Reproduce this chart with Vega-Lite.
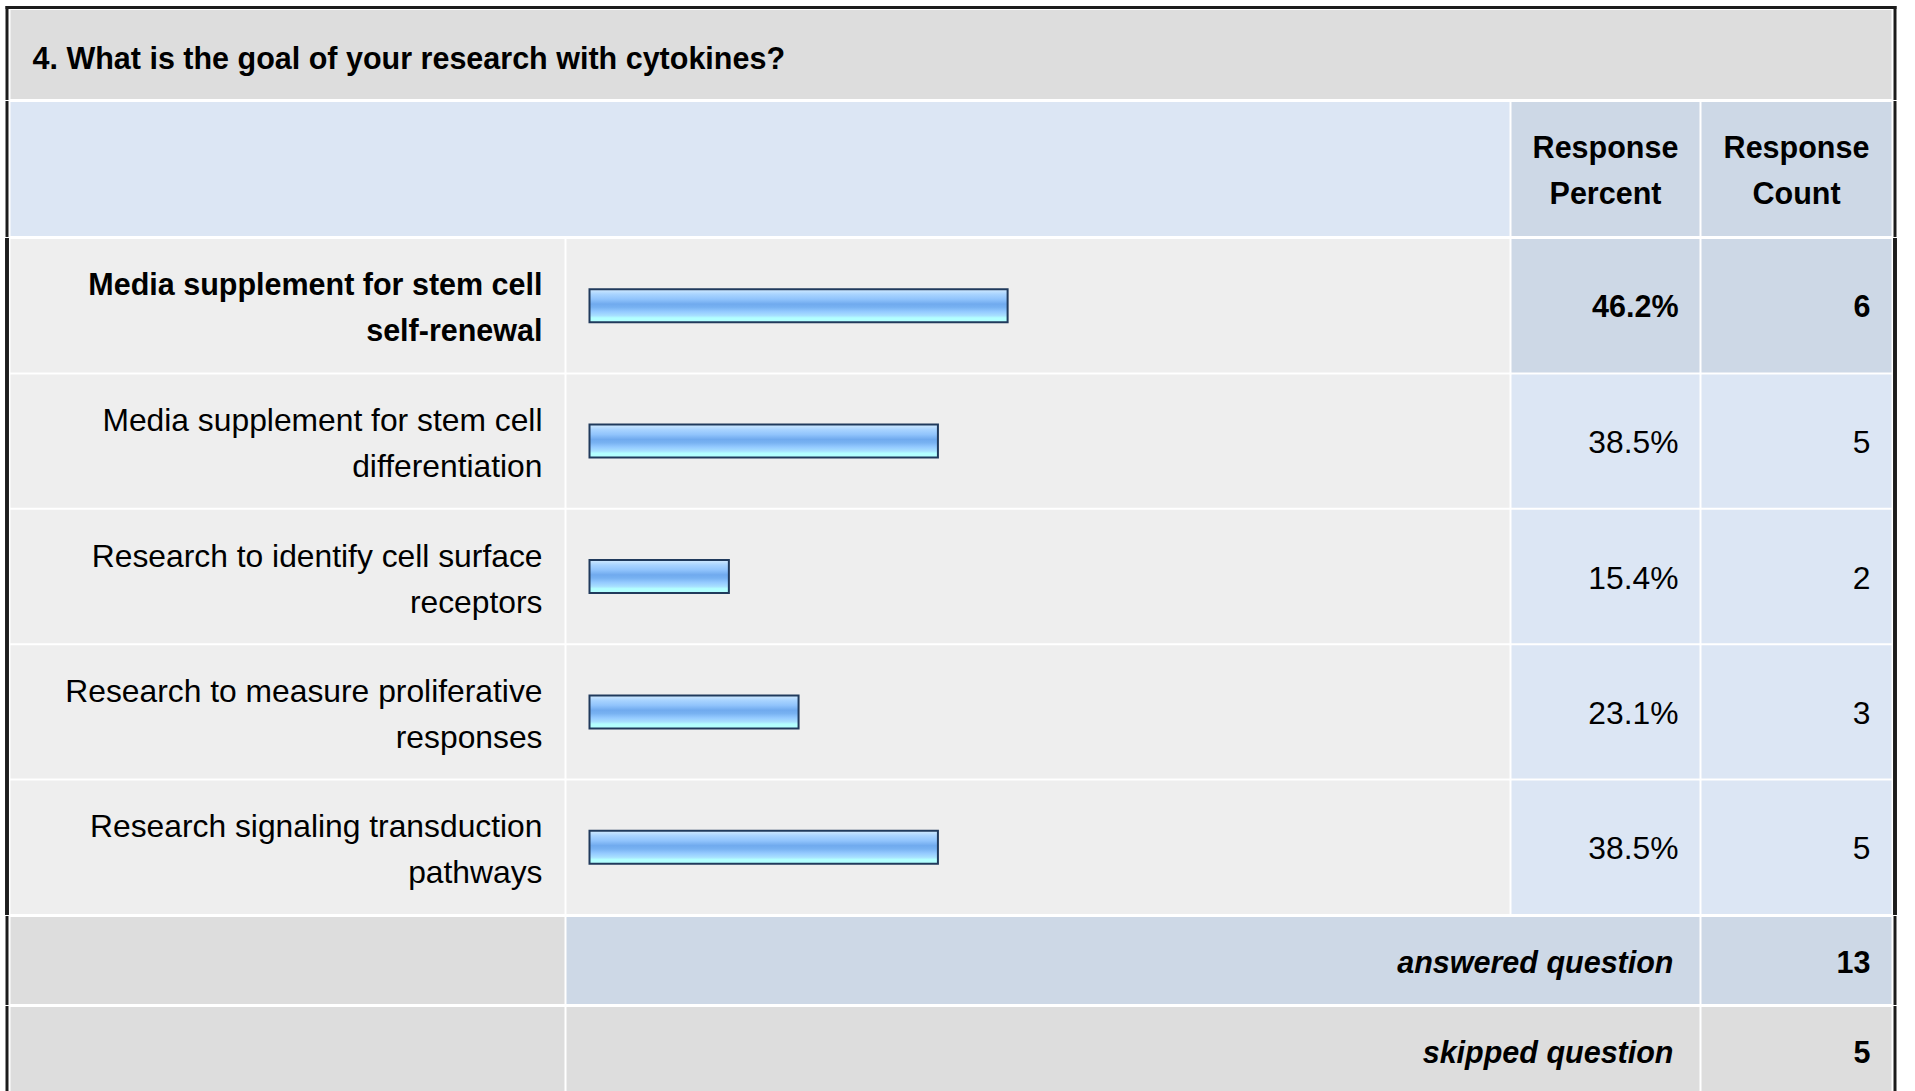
{
  "$schema": "https://vega.github.io/schema/vega-lite/v6.json",
  "padding": {"left": 4.5, "top": 4, "right": 14, "bottom": 0},
  "background": "white",
  "config": {
    "view": {"stroke": null},
    "text": {"font": "Liberation Sans", "fontSize": 31.8, "color": "#000000"}
  },
  "datasets": {
    "question": [{"title": "4. What is the goal of your research with cytokines?"}],
    "headings": [{"heading": "Response Percent"}, {"heading": "Response Count"}],
    "answers": [
      {"answer": "Media supplement for stem cell\nself-renewal", "percent": 0.462, "count": 6},
      {"answer": "Media supplement for stem cell\ndifferentiation", "percent": 0.385, "count": 5},
      {"answer": "Research to identify cell surface\nreceptors", "percent": 0.154, "count": 2},
      {"answer": "Research to measure proliferative\nresponses", "percent": 0.231, "count": 3},
      {"answer": "Research signaling transduction\npathways", "percent": 0.385, "count": 5}
    ],
    "summary": [
      {"label": "answered question", "count": 13},
      {"label": "skipped question", "count": 5}
    ]
  },
  "spacing": -6,
  "bounds": "full",
  "vconcat": [
    {
      "width": 1881,
      "height": 89,
      "view": {"fill": "#dddddd"},
      "data": {"name": "question"},
      "layer": [
        {
          "mark": {"type": "text", "align": "left", "baseline": "middle", "fontWeight": "bold", "fontSize": 30.5, "dx": 22, "dy": 5},
          "encoding": {"x": {"value": 0}, "text": {"field": "title"}}
        },
        {
          "mark": {"type": "rule", "color": "#1c1c1c", "strokeWidth": 3, "xOffset": -3.5, "yOffset": -4, "y2Offset": 1},
          "encoding": {"x": {"value": 0}, "y": {"value": 0}, "y2": {"value": "height"}}
        },
        {
          "mark": {"type": "rule", "color": "#1c1c1c", "strokeWidth": 3, "xOffset": 3.5, "yOffset": -4, "y2Offset": 1},
          "encoding": {"x": {"value": "width"}, "y": {"value": 0}, "y2": {"value": "height"}}
        },
        {
          "mark": {"type": "rule", "color": "#1c1c1c", "strokeWidth": 3, "strokeCap": "square", "yOffset": -2.5, "xOffset": -3.5, "x2Offset": 3.5},
          "encoding": {"y": {"value": 0}, "x": {"value": 0}, "x2": {"value": "width"}}
        }
      ]
    },
    {
      "spacing": 2,
      "bounds": "flush",
      "hconcat": [
        {
          "width": 1499,
          "height": 134,
          "view": {"fill": "#dce6f4"},
          "data": {"values": [{}]},
          "mark": {"type": "rule", "color": "#1c1c1c", "strokeWidth": 3, "xOffset": -3.5, "yOffset": -1, "y2Offset": 1},
          "encoding": {"x": {"value": 0}, "y": {"value": 0}, "y2": {"value": "height"}}
        },
        {
          "width": 188,
          "height": 134,
          "view": {"fill": "#cdd8e6"},
          "data": {"name": "headings"},
          "transform": [{"filter": "datum.heading == 'Response Percent'"}],
          "mark": {"type": "text", "align": "center", "baseline": "middle", "fontWeight": "bold", "fontSize": 30.5, "lineBreak": " ", "lineHeight": 46, "dy": -20},
          "encoding": {"text": {"field": "heading"}}
        },
        {
          "width": 190,
          "height": 134,
          "view": {"fill": "#cdd8e6"},
          "data": {"name": "headings"},
          "transform": [{"filter": "datum.heading == 'Response Count'"}],
          "layer": [
            {
              "mark": {"type": "text", "align": "center", "baseline": "middle", "fontWeight": "bold", "fontSize": 30.5, "lineBreak": " ", "lineHeight": 46, "dy": -20},
              "encoding": {"text": {"field": "heading"}}
            },
            {
              "mark": {"type": "rule", "color": "#1c1c1c", "strokeWidth": 3, "xOffset": 3.5, "yOffset": -1, "y2Offset": 1},
              "encoding": {"x": {"value": "width"}, "y": {"value": 0}, "y2": {"value": "height"}}
            }
          ]
        }
      ]
    },
    {
      "spacing": 2,
      "bounds": "flush",
      "hconcat": [
        {
          "width": 554,
          "height": 675,
          "data": {"name": "answers"},
          "transform": [{"joinaggregate": [{"op": "max", "field": "percent", "as": "maxp"}]}],
          "layer": [
            {
              "mark": {"type": "rect", "color": "#eeeeee"},
              "encoding": {
                "y": {"field": "answer", "type": "nominal", "sort": null, "axis": null, "scale": {"paddingInner": 0.0147, "paddingOuter": 0}},
                "x": {"value": 0},
                "x2": {"value": "width"}
              }
            },
            {
              "mark": {"type": "text", "align": "right", "baseline": "middle", "lineBreak": "\n", "lineHeight": 46, "dx": -22, "dy": -20},
              "encoding": {
                "y": {"field": "answer", "type": "nominal", "sort": null, "axis": null},
                "x": {"value": "width"},
                "text": {"condition": {"test": "datum.percent != datum.maxp", "field": "answer"}, "value": ""}
              }
            },
            {
              "mark": {"type": "text", "align": "right", "baseline": "middle", "fontWeight": "bold", "fontSize": 30.5, "lineBreak": "\n", "lineHeight": 46, "dx": -22, "dy": -20},
              "encoding": {
                "y": {"field": "answer", "type": "nominal", "sort": null, "axis": null},
                "x": {"value": "width"},
                "text": {"condition": {"test": "datum.percent == datum.maxp", "field": "answer"}, "value": ""}
              }
            },
            {
              "mark": {"type": "rule", "color": "#1c1c1c", "strokeWidth": 3, "xOffset": -3.5, "yOffset": -1, "y2Offset": 1},
              "encoding": {"x": {"value": 0}, "y": {"value": 0}, "y2": {"value": "height"}}
            }
          ]
        },
        {
          "width": 943,
          "height": 675,
          "data": {"name": "answers"},
          "layer": [
            {
              "mark": {"type": "rect", "color": "#eeeeee"},
              "encoding": {
                "y": {"field": "answer", "type": "nominal", "sort": null, "axis": null, "scale": {"paddingInner": 0.0147, "paddingOuter": 0}},
                "x": {"value": 0},
                "x2": {"value": "width"}
              }
            },
            {
              "mark": {
                "type": "bar",
                "height": 33,
                "fill": {
                  "gradient": "linear", "x1": 0, "y1": 0, "x2": 0, "y2": 1,
                  "stops": [
                    {"offset": 0, "color": "#d2ebff"},
                    {"offset": 0.15, "color": "#a9d4ff"},
                    {"offset": 0.3, "color": "#91c4fc"},
                    {"offset": 0.45, "color": "#70aaee"},
                    {"offset": 0.55, "color": "#78b2f2"},
                    {"offset": 0.68, "color": "#94caff"},
                    {"offset": 0.8, "color": "#a8e0ff"},
                    {"offset": 0.87, "color": "#b3ffff"},
                    {"offset": 1, "color": "#b3ffff"}
                  ]
                },
                "stroke": "#203a5c",
                "strokeWidth": 2
              },
              "encoding": {
                "y": {"field": "answer", "type": "nominal", "sort": null, "axis": null},
                "x": {"field": "percent", "type": "quantitative", "axis": null, "scale": {"domain": [0, 1], "range": [23, 928]}}
              }
            }
          ]
        },
        {
          "width": 188,
          "height": 675,
          "data": {"name": "answers"},
          "transform": [{"joinaggregate": [{"op": "max", "field": "percent", "as": "maxp"}]}],
          "layer": [
            {
              "mark": {"type": "rect"},
              "encoding": {
                "y": {"field": "answer", "type": "nominal", "sort": null, "axis": null, "scale": {"paddingInner": 0.0147, "paddingOuter": 0}},
                "x": {"value": 0},
                "x2": {"value": "width"},
                "color": {"condition": {"test": "datum.percent == datum.maxp", "value": "#cdd8e6"}, "value": "#dce6f4"}
              }
            },
            {
              "mark": {"type": "text", "align": "right", "baseline": "middle", "dx": -21, "dy": 2},
              "encoding": {
                "y": {"field": "answer", "type": "nominal", "sort": null, "axis": null},
                "x": {"value": "width"},
                "text": {"condition": {"test": "datum.percent != datum.maxp", "field": "percent", "type": "quantitative", "format": ".1%"}, "value": ""}
              }
            },
            {
              "mark": {"type": "text", "align": "right", "baseline": "middle", "fontWeight": "bold", "fontSize": 30.5, "dx": -21, "dy": 2},
              "encoding": {
                "y": {"field": "answer", "type": "nominal", "sort": null, "axis": null},
                "x": {"value": "width"},
                "text": {"condition": {"test": "datum.percent == datum.maxp", "field": "percent", "type": "quantitative", "format": ".1%"}, "value": ""}
              }
            }
          ]
        },
        {
          "width": 190,
          "height": 675,
          "data": {"name": "answers"},
          "transform": [{"joinaggregate": [{"op": "max", "field": "percent", "as": "maxp"}]}],
          "layer": [
            {
              "mark": {"type": "rect"},
              "encoding": {
                "y": {"field": "answer", "type": "nominal", "sort": null, "axis": null, "scale": {"paddingInner": 0.0147, "paddingOuter": 0}},
                "x": {"value": 0},
                "x2": {"value": "width"},
                "color": {"condition": {"test": "datum.percent == datum.maxp", "value": "#cdd8e6"}, "value": "#dce6f4"}
              }
            },
            {
              "mark": {"type": "text", "align": "right", "baseline": "middle", "dx": -21, "dy": 2},
              "encoding": {
                "y": {"field": "answer", "type": "nominal", "sort": null, "axis": null},
                "x": {"value": "width"},
                "text": {"condition": {"test": "datum.percent != datum.maxp", "field": "count", "type": "quantitative"}, "value": ""}
              }
            },
            {
              "mark": {"type": "text", "align": "right", "baseline": "middle", "fontWeight": "bold", "fontSize": 30.5, "dx": -21, "dy": 2},
              "encoding": {
                "y": {"field": "answer", "type": "nominal", "sort": null, "axis": null},
                "x": {"value": "width"},
                "text": {"condition": {"test": "datum.percent == datum.maxp", "field": "count", "type": "quantitative"}, "value": ""}
              }
            },
            {
              "mark": {"type": "rule", "color": "#1c1c1c", "strokeWidth": 3, "xOffset": 3.5, "yOffset": -1, "y2Offset": 1},
              "encoding": {"x": {"value": "width"}, "y": {"value": 0}, "y2": {"value": "height"}}
            }
          ]
        }
      ]
    },
    {
      "spacing": 2,
      "bounds": "flush",
      "hconcat": [
        {
          "width": 554,
          "height": 87,
          "view": {"fill": "#dddddd"},
          "data": {"values": [{}]},
          "mark": {"type": "rule", "color": "#1c1c1c", "strokeWidth": 3, "xOffset": -3.5, "yOffset": -1, "y2Offset": 1},
          "encoding": {"x": {"value": 0}, "y": {"value": 0}, "y2": {"value": "height"}}
        },
        {
          "width": 1133,
          "height": 87,
          "view": {"fill": "#cdd8e6"},
          "data": {"name": "summary"},
          "transform": [{"filter": "datum.label == 'answered question'"}],
          "mark": {"type": "text", "align": "right", "baseline": "middle", "fontWeight": "bold", "fontStyle": "italic", "fontSize": 30.5, "dx": -26, "dy": 3},
          "encoding": {"x": {"value": "width"}, "text": {"field": "label"}}
        },
        {
          "width": 190,
          "height": 87,
          "view": {"fill": "#cdd8e6"},
          "data": {"name": "summary"},
          "transform": [{"filter": "datum.label == 'answered question'"}],
          "layer": [
            {
              "mark": {"type": "text", "align": "right", "baseline": "middle", "fontWeight": "bold", "fontSize": 30.5, "dx": -21, "dy": 3},
              "encoding": {"x": {"value": "width"}, "text": {"field": "count", "type": "quantitative"}}
            },
            {
              "mark": {"type": "rule", "color": "#1c1c1c", "strokeWidth": 3, "xOffset": 3.5, "yOffset": -1, "y2Offset": 1},
              "encoding": {"x": {"value": "width"}, "y": {"value": 0}, "y2": {"value": "height"}}
            }
          ]
        }
      ]
    },
    {
      "spacing": 2,
      "bounds": "flush",
      "hconcat": [
        {
          "width": 554,
          "height": 94,
          "view": {"fill": "#dddddd"},
          "data": {"values": [{}]},
          "mark": {"type": "rule", "color": "#1c1c1c", "strokeWidth": 3, "xOffset": -3.5, "yOffset": -1, "y2Offset": 1},
          "encoding": {"x": {"value": 0}, "y": {"value": 0}, "y2": {"value": "height"}}
        },
        {
          "width": 1133,
          "height": 94,
          "view": {"fill": "#dddddd"},
          "data": {"name": "summary"},
          "transform": [{"filter": "datum.label == 'skipped question'"}],
          "mark": {"type": "text", "align": "right", "baseline": "middle", "fontWeight": "bold", "fontStyle": "italic", "fontSize": 30.5, "dx": -26, "dy": -0.5},
          "encoding": {"x": {"value": "width"}, "text": {"field": "label"}}
        },
        {
          "width": 190,
          "height": 94,
          "view": {"fill": "#dddddd"},
          "data": {"name": "summary"},
          "transform": [{"filter": "datum.label == 'skipped question'"}],
          "layer": [
            {
              "mark": {"type": "text", "align": "right", "baseline": "middle", "fontWeight": "bold", "fontSize": 30.5, "dx": -21, "dy": -0.5},
              "encoding": {"x": {"value": "width"}, "text": {"field": "count", "type": "quantitative"}}
            },
            {
              "mark": {"type": "rule", "color": "#1c1c1c", "strokeWidth": 3, "xOffset": 3.5, "yOffset": -1, "y2Offset": 1},
              "encoding": {"x": {"value": "width"}, "y": {"value": 0}, "y2": {"value": "height"}}
            }
          ]
        }
      ]
    }
  ]
}
